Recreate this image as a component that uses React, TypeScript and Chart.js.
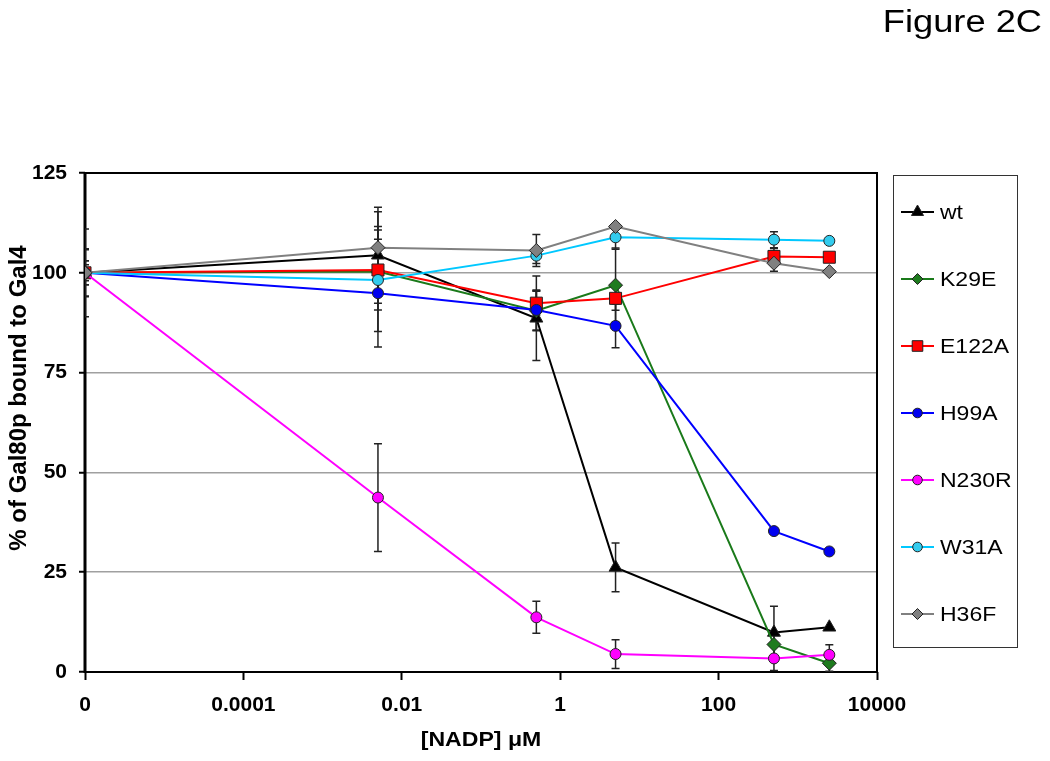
import React, { useEffect, useRef } from 'react';
import { Chart, registerables } from 'chart.js';

Chart.register(...registerables);

// x positions in µM; the first point ("0") is drawn at 1e-6 on the log axis, like the original
const concentrations = [0.000001, 0.005, 0.5, 5, 500, 2500];
const xTickValues = [0.000001, 0.0001, 0.01, 1, 100, 10000];
const xTickLabels = ['0', '0.0001', '0.01', '1', '100', '10000'];

const seriesNames = ['wt', 'K29E', 'E122A', 'H99A', 'N230R', 'W31A', 'H36F'];

const wt = [100, 104.4, 88.6, 26.2, 9.9, 11.2];
const wtErr = [11, 12, 10.6, 6.1, 6.6, 0];
const k29e = [100, 100.3, 90.5, 96.9, 6.9, 2.2];
const k29eErr = [3, 15, 5, 9.3, 3, 2];
const e122a = [100, 100.7, 92.4, 93.6, 104.1, 103.9];
const e122aErr = [3, 10, 3, 3, 2, 0];
const h99a = [100, 94.9, 90.7, 86.7, 35.3, 30.2];
const h99aErr = [6, 13.5, 5, 5.5, 0, 0];
const n230r = [100, 43.7, 13.7, 4.5, 3.4, 4.3];
const n230rErr = [0, 13.5, 4, 3.6, 3, 2.5];
const w31a = [100, 98.2, 104.3, 108.9, 108.3, 108.0];
const w31aErr = [2, 3, 2, 3, 2, 0];
const h36f = [100, 106.3, 105.6, 111.6, 102.4, 100.3];
const h36fErr = [5.8, 5.3, 4, 0, 2, 0];

const seriesValues = [wt, k29e, e122a, h99a, n230r, w31a, h36f];
const seriesErrors = [wtErr, k29eErr, e122aErr, h99aErr, n230rErr, w31aErr, h36fErr];
const lineColors = ['#000000', '#1a7a1a', '#ff0000', '#0000ff', '#ff00ff', '#00c8ff', '#808080'];
const fillColors = ['#000000', '#1e7b1e', '#ff0000', '#0000f0', '#ff00ff', '#33ccee', '#808080'];
const pointStyles = ['triangle', 'rectRot', 'rect', 'circle', 'circle', 'circle', 'rectRot'];
const pointRadii = [7.5, 7, 8.5, 5.5, 5.5, 5.5, 7];

const FONT = "'Liberation Sans', Arial, sans-serif";

function stretchText(ctx: CanvasRenderingContext2D, text: string, x: number, y: number, sx: number, align: CanvasTextAlign) {
  ctx.save();
  ctx.translate(x, y);
  ctx.scale(sx, 1);
  ctx.textAlign = align;
  ctx.fillText(text, 0, 0);
  ctx.restore();
}

function drawMarker(ctx: CanvasRenderingContext2D, style: string, x: number, y: number, r: number) {
  ctx.beginPath();
  if (style === 'triangle') {
    ctx.moveTo(x, y - r);
    ctx.lineTo(x + r * 0.866, y + r * 0.5);
    ctx.lineTo(x - r * 0.866, y + r * 0.5);
    ctx.closePath();
  } else if (style === 'rect') {
    const s = r * Math.SQRT1_2;
    ctx.rect(x - s, y - s, 2 * s, 2 * s);
  } else if (style === 'rectRot') {
    ctx.moveTo(x - r, y);
    ctx.lineTo(x, y - r);
    ctx.lineTo(x + r, y);
    ctx.lineTo(x, y + r);
    ctx.closePath();
  } else {
    ctx.arc(x, y, r, 0, Math.PI * 2);
  }
  ctx.fill();
  ctx.stroke();
}

const framePlugin = {
  id: 'frameAndErrors',
  beforeDatasetsDraw(chart: any) {
    const { ctx, chartArea: a, scales } = chart;
    ctx.save();
    ctx.strokeStyle = '#000';
    ctx.lineWidth = 2;
    ctx.strokeRect(a.left, a.top, a.right - a.left, a.bottom - a.top);
    ctx.lineWidth = 3;
    ctx.beginPath();
    ctx.moveTo(a.left, a.top - 1);
    ctx.lineTo(a.left, a.bottom + 1);
    ctx.stroke();
    ctx.restore();

    ctx.save();
    ctx.beginPath();
    ctx.rect(a.left, a.top, a.right - a.left, a.bottom - a.top);
    ctx.clip();
    ctx.strokeStyle = '#222';
    ctx.lineWidth = 1.5;
    const yS = scales.y;
    seriesErrors.forEach((errs, d) => {
      const meta = chart.getDatasetMeta(d);
      errs.forEach((e, i) => {
        if (!e) return;
        const v = seriesValues[d][i];
        const x = meta.data[i].x;
        const yt = yS.getPixelForValue(v + e);
        const yb = yS.getPixelForValue(v - e);
        ctx.beginPath();
        ctx.moveTo(x, yt);
        ctx.lineTo(x, yb);
        ctx.moveTo(x - 4, yt);
        ctx.lineTo(x + 4, yt);
        ctx.moveTo(x - 4, yb);
        ctx.lineTo(x + 4, yb);
        ctx.stroke();
      });
    });
    ctx.restore();
  },
  afterDraw(chart: any) {
    const { ctx, chartArea: a } = chart;
    ctx.save();
    ctx.fillStyle = '#000';

    // figure label
    ctx.font = `31px ${FONT}`;
    ctx.textBaseline = 'alphabetic';
    stretchText(ctx, 'Figure 2C', 1042, 32, 1.17, 'right');

    // y axis title
    ctx.save();
    ctx.translate(19, 398);
    ctx.rotate(-Math.PI / 2);
    ctx.font = `bold 24px ${FONT}`;
    ctx.textAlign = 'center';
    ctx.textBaseline = 'middle';
    ctx.fillText('% of Gal80p bound to Gal4', 0, 0);
    ctx.restore();

    // x axis title
    ctx.font = `bold 21px ${FONT}`;
    ctx.textBaseline = 'middle';
    stretchText(ctx, '[NADP] \u03bcM', (a.left + a.right) / 2, 740, 1.1, 'center');

    // legend
    ctx.strokeStyle = '#333';
    ctx.lineWidth = 1;
    ctx.strokeRect(893.5, 175.5, 124, 472);
    ctx.font = `20px ${FONT}`;
    ctx.textBaseline = 'middle';
    seriesNames.forEach((name, i) => {
      const y = 212 + i * 67;
      ctx.strokeStyle = lineColors[i];
      ctx.lineWidth = 2;
      ctx.beginPath();
      ctx.moveTo(901, y);
      ctx.lineTo(934, y);
      ctx.stroke();
      ctx.fillStyle = fillColors[i];
      ctx.strokeStyle = '#222';
      ctx.lineWidth = 1;
      const st = pointStyles[i];
      const r = st === 'triangle' ? 7 : st === 'rect' ? 7.5 : st === 'rectRot' ? 5.5 : 4.8;
      drawMarker(ctx, st, 917.5, y, r);
      ctx.fillStyle = '#000';
      stretchText(ctx, name, 940, y + 1, 1.15, 'left');
    });
    ctx.restore();
  },
};

export default function App() {
  const canvasRef = useRef<HTMLCanvasElement | null>(null);

  useEffect(() => {
    if (!canvasRef.current) return;
    const datasets = seriesNames.map((name, d) => ({
      label: name,
      data: concentrations.map((x, i) => ({ x, y: seriesValues[d][i] })),
      borderColor: lineColors[d],
      backgroundColor: fillColors[d],
      borderWidth: 2,
      pointStyle: pointStyles[d] as any,
      pointRadius: pointRadii[d],
      pointHoverRadius: pointRadii[d],
      pointBackgroundColor: fillColors[d],
      pointBorderColor: '#222',
      pointBorderWidth: 1,
      tension: 0,
      fill: false,
      order: seriesNames.length - 1 - d,
    }));

    const chart = new Chart(canvasRef.current, {
      type: 'line',
      data: { datasets },
      plugins: [framePlugin],
      options: {
        animation: false,
        responsive: true,
        maintainAspectRatio: false,
        layout: { padding: { left: 0, top: 173, right: 173, bottom: 0 } },
        plugins: {
          legend: { display: false },
          title: { display: false },
          tooltip: { enabled: false },
        },
        scales: {
          x: {
            type: 'logarithmic',
            min: 0.000001,
            max: 10000,
            afterBuildTicks: (s: any) => {
              s.ticks = xTickValues.map((v) => ({ value: v }));
            },
            afterFit: (s: any) => {
              s.height = 89;
            },
            border: { display: false },
            grid: {
              drawOnChartArea: false,
              drawTicks: true,
              tickLength: 8,
              tickColor: '#000',
              tickWidth: 2,
            },
            ticks: {
              autoSkip: false,
              maxRotation: 0,
              minRotation: 0,
              padding: 13,
              color: '#000',
              font: { family: FONT, size: 21, weight: 'bold' },
              callback: (_v: any, i: number) => xTickLabels[i],
            },
          },
          y: {
            type: 'linear',
            min: 0,
            max: 125,
            afterFit: (s: any) => {
              s.width = 85;
            },
            border: { display: false },
            grid: {
              color: (c: any) =>
                c.tick && c.tick.value > 0 && c.tick.value < 125 ? '#a0a0a0' : 'rgba(0,0,0,0)',
              lineWidth: 1.5,
              drawTicks: true,
              tickLength: 6,
              tickColor: '#000',
              tickWidth: 2,
            },
            ticks: {
              stepSize: 25,
              padding: 12,
              color: '#000',
              font: { family: FONT, size: 21, weight: 'bold' },
            },
          },
        },
      },
    });
    return () => chart.destroy();
  }, []);

  return (
    <div style={{ position: 'absolute', left: 0, top: 0, width: 1050, height: 761, background: '#fff' }}>
      <canvas ref={canvasRef} />
    </div>
  );
}
